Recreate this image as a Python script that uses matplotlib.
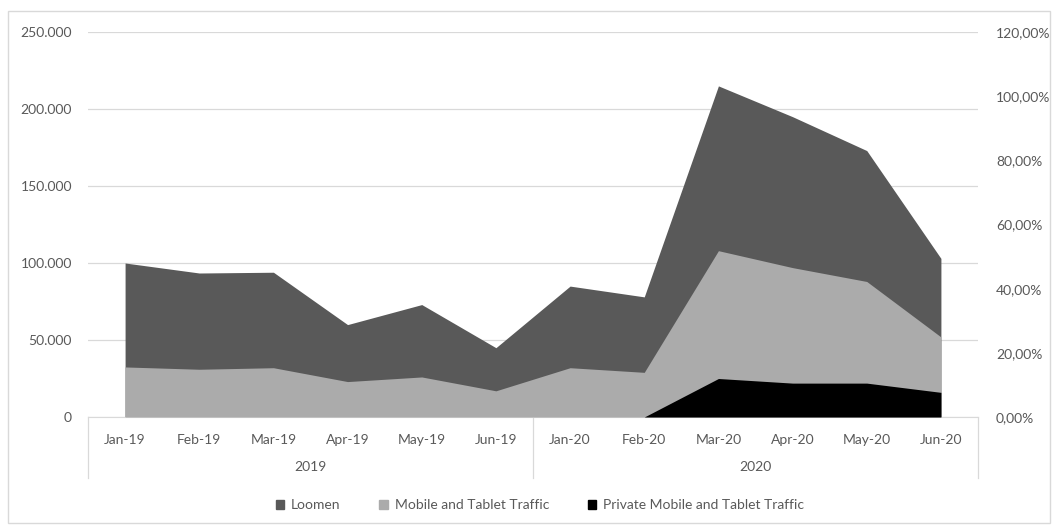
import matplotlib.pyplot as plt
import matplotlib.transforms as mtransforms
from matplotlib.patches import Patch, Rectangle
from matplotlib.ticker import FuncFormatter

plt.rcParams['font.family'] = ['Lato', 'DejaVu Sans']

months = ['Jan-19', 'Feb-19', 'Mar-19', 'Apr-19', 'May-19', 'Jun-19',
          'Jan-20', 'Feb-20', 'Mar-20', 'Apr-20', 'May-20', 'Jun-20']
years = ['2019', '2020']
loomen = [100000, 93500, 94000, 60000, 73000, 45000,
          85000, 78000, 215000, 195000, 173000, 103000]
mobile = [32500, 31000, 32000, 23000, 26000, 17000,
          32000, 29000, 108000, 97000, 88000, 52000]
private = [0, 0, 0, 0, 0, 0, 0, 0, 25000, 22000, 22000, 16000]

txt = '#595959'
grid = '#d9d9d9'
fs = 10
W, H = 1056, 527

fig = plt.figure(figsize=(W / 100, H / 100), dpi=100)
fig.patches.append(Rectangle((8 / W, 4 / H), 1042 / W, 512 / H, transform=fig.transFigure,
                             fill=False, edgecolor=grid, lw=1))

ax = fig.add_axes([88 / W, (H - 417) / H, 890 / W, 385 / H])
x = list(range(len(months)))

# areas overlap (not stacked), later series drawn on top
ax.fill_between(x, loomen, color='#595959', lw=0, zorder=2)
ax.fill_between(x, mobile, color='#ababab', lw=0, zorder=3)
ax.fill_between(x, private, color='#000000', lw=0, zorder=4)

ax.set_xlim(-0.5, 11.5)
ax.set_ylim(0, 250000)
ax.set_yticks(range(0, 250001, 50000))
ax.yaxis.set_major_formatter(FuncFormatter(lambda v, p: f'{int(v):,}'.replace(',', '.')))
ax.grid(axis='y', color=grid, lw=0.9, zorder=1)
ax.set_axisbelow(True)
for s in ['top', 'left', 'right']:
    ax.spines[s].set_visible(False)
ax.spines['bottom'].set_color(grid)
ax.tick_params(axis='y', length=0, pad=11.5, colors=txt, labelsize=fs)
ax.set_xticks([])

ax2 = ax.twinx()
ax2.set_ylim(0, 1.2)
ax2.set_yticks([i * 0.2 for i in range(7)])
ax2.yaxis.set_major_formatter(FuncFormatter(lambda v, p: f'{v * 100:.2f}%'.replace('.', ',')))
ax2.tick_params(axis='y', length=0, pad=13, colors=txt, labelsize=fs)
for s in ax2.spines.values():
    s.set_visible(False)

# two-level category axis
trans = mtransforms.blended_transform_factory(ax.transData, ax.transAxes)
for i, m in enumerate(months):
    ax.text(i, -0.06, m, transform=trans, ha='center', va='center', color=txt, fontsize=fs)
for j, yr in enumerate(years):
    ax.text(2.5 + 6 * j, -0.13, yr, transform=trans, ha='center', va='center', color=txt, fontsize=fs)
for xv in [-0.5, 5.5, 11.5]:
    ax.plot([xv, xv], [0, -0.158], transform=trans, color=grid, lw=0.9, clip_on=False)

handles = [Patch(color='#595959', label='Loomen'),
           Patch(color='#ababab', label='Mobile and Tablet Traffic'),
           Patch(color='#000000', label='Private Mobile and Tablet Traffic')]
leg = fig.legend(handles=handles, loc='center', bbox_to_anchor=(540 / W, (H - 505) / H), ncol=3,
                 frameon=False, fontsize=fs, handlelength=0.6, handleheight=0.6,
                 handletextpad=0.5, columnspacing=2.8)
for t in leg.get_texts():
    t.set_color(txt)

fig.savefig('out.png', dpi=100)
